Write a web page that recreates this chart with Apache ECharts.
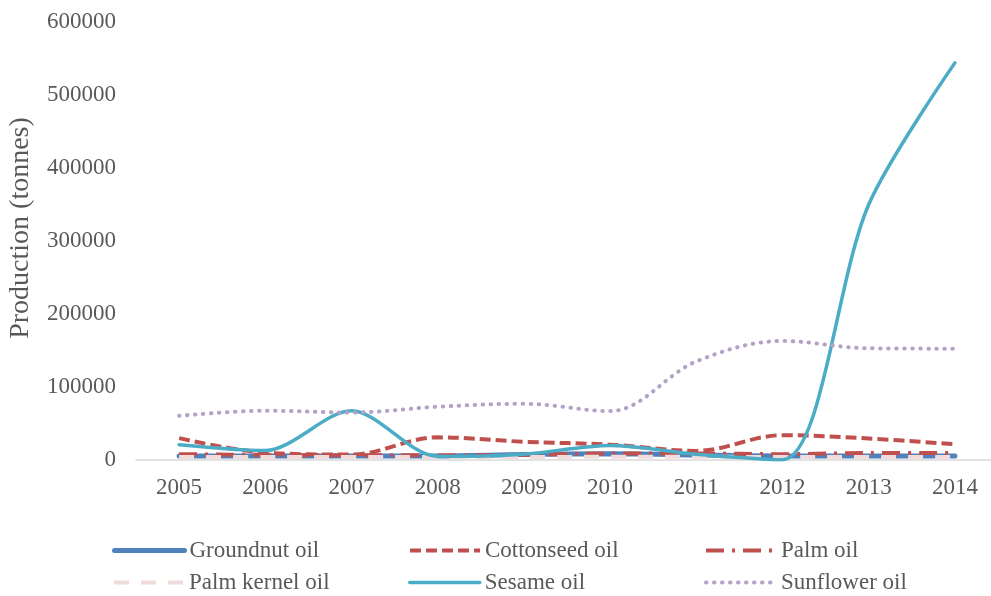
<!DOCTYPE html>
<html>
<head>
<meta charset="utf-8">
<script src="https://cdn.jsdelivr.net/npm/echarts@6/dist/echarts.min.js"></script>
<style>
  html, body { margin: 0; padding: 0; background: #ffffff; }
  #chart { width: 991px; height: 596px; }
</style>
</head>
<body>
<div id="chart"></div>
<script>
// Vegetable oil production by type, 2005–2014 (tonnes)
var years = ['2005', '2006', '2007', '2008', '2009', '2010', '2011', '2012', '2013', '2014'];
var groundnut  = [5500, 5500, 5500, 5500, 7500, 8500, 7000, 5500, 5500, 5500];
var cottonseed = [30000, 10000, 7500, 31000, 25000, 21000, 12500, 34000, 29500, 21500];
var palm       = [8000, 7000, 6500, 6500, 7000, 9000, 9000, 8000, 9500, 9500];
var palmKernel = [4000, 4000, 4000, 4000, 4000, 4500, 4500, 4000, 4000, 4000];
var sesame     = [21000, 13000, 67500, 5000, 8000, 20000, 8000, 500, 350000, 544000];
var sunflower  = [60500, 67500, 65000, 73000, 77000, 67000, 135000, 163000, 153000, 152500];
var yTicks = [0, 100000, 200000, 300000, 400000, 500000, 600000];

var FONT = 'Liberation Serif';
var TEXT = '#595959';
var FS = 23;

// Line look for each oil: colour, width, dash pattern, cap, smoothing
var styles = [
  { name: 'Groundnut oil',   data: groundnut,  color: '#4f81bd', width: 5,   type: 'solid',        cap: 'round', smooth: 0.35 },
  { name: 'Cottonseed oil',  data: cottonseed, color: '#c0504d', width: 4,   type: [11, 5],        cap: 'butt',  smooth: 0.35 },
  { name: 'Palm oil',        data: palm,       color: '#c0504d', width: 4,   type: [18, 8, 3, 8],  cap: 'butt',  smooth: 0.35 },
  { name: 'Palm kernel oil', data: palmKernel, color: '#f2dcdb', width: 4,   type: [15, 12],       cap: 'butt',  smooth: 0.35 },
  { name: 'Sesame oil',      data: sesame,     color: '#4bacc6', width: 3.5, type: 'solid',        cap: 'round', smooth: 0.3 },
  { name: 'Sunflower oil',   data: sunflower,  color: '#b3a2c7', width: 4,   type: [0.5, 7.5],     cap: 'round', smooth: 0.35 }
];

// Legend grid: 3 columns x 2 rows below the plot
var legendPos = {
  'Groundnut oil':   { left: 112, top: 539 },
  'Cottonseed oil':  { left: 408, top: 539 },
  'Palm oil':        { left: 704, top: 539 },
  'Palm kernel oil': { left: 112, top: 571 },
  'Sesame oil':      { left: 408, top: 571 },
  'Sunflower oil':   { left: 704, top: 571 }
};

var series = styles.map(function (s, i) {
  return {
    name: s.name,
    type: 'line',
    data: s.data,
    smooth: s.smooth,
    symbol: 'none',
    z: 2 + i,
    lineStyle: { color: s.color, width: s.width, type: s.type, cap: s.cap },
    itemStyle: { color: s.color }
  };
});

var legends = styles.map(function (s) {
  var p = legendPos[s.name];
  return {
    left: p.left,
    top: p.top,
    padding: 0,
    itemWidth: 70,
    itemHeight: 23,
    selectedMode: false,
    data: [s.name],
    itemStyle: { opacity: 0 },
    lineStyle: { color: s.color, width: s.width, type: s.type, cap: s.cap },
    textStyle: { fontFamily: FONT, fontSize: FS, color: TEXT }
  };
});

var chart = echarts.init(document.getElementById('chart'), null, { renderer: 'canvas' });
chart.setOption({
  animation: false,
  backgroundColor: '#ffffff',
  grid: { left: 136, top: 22, width: 862, height: 438, containLabel: false, outerBoundsMode: 'none' },
  legend: legends,
  xAxis: {
    type: 'category',
    data: years,
    boundaryGap: true,
    axisLine: { show: true, lineStyle: { color: '#d9d9d9', width: 1.5 } },
    axisTick: { show: false },
    axisLabel: { margin: 16, fontFamily: FONT, fontSize: FS, color: TEXT },
    splitLine: { show: false }
  },
  yAxis: {
    type: 'value',
    min: yTicks[0],
    max: yTicks[yTicks.length - 1],
    interval: yTicks[1] - yTicks[0],
    name: 'Production (tonnes)',
    nameLocation: 'middle',
    nameGap: 101,
    nameTextStyle: { fontFamily: FONT, fontSize: 28, color: TEXT, padding: [0, 0, 0, 26] },
    axisLine: { show: false },
    axisTick: { show: false },
    splitLine: { show: false },
    axisLabel: {
      margin: 20, fontFamily: FONT, fontSize: FS, color: TEXT,
      formatter: function (v) { return String(v); }
    }
  },
  series: series
});
</script>
</body>
</html>
